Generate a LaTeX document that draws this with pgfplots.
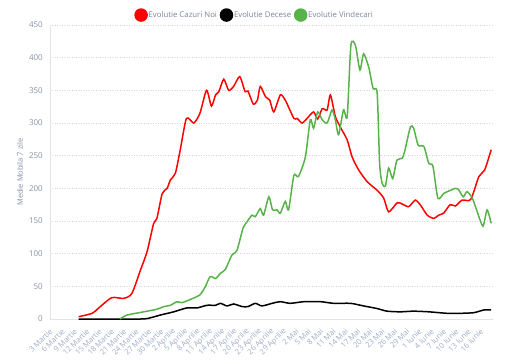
\documentclass[border=0pt]{standalone}
\usepackage{fontspec}
\setmainfont{Open Sans}
\usepackage{pgfplots}
\usepackage{pgfplotstable}
\pgfplotsset{compat=1.18}
\definecolor{tickc}{HTML}{8591A6}
\definecolor{xtickc}{HTML}{9DABC6}
\definecolor{legc}{HTML}{79859A}
\definecolor{gridc}{HTML}{D6D6D6}
\definecolor{axc}{HTML}{E3E3E3}
\definecolor{cred}{HTML}{FF0000}
\definecolor{cgreen}{HTML}{58B24A}
\pgfplotstableread{
x y
6.4 3.5
9.7 8.7
11.7 19
14.5 32.7
17.4 31.6
19.4 39
21.5 75
23.1 103
24.7 146
25.5 154
26.8 192
28 200
28.8 213
30 223
31.2 259
32.7 307
34.5 300
36 315
37.6 350
38.8 326
39.8 343
40.6 348
41.8 367
43 350
44.2 356
45.7 371
47 348
47.7 349
49 329
50 335
50.7 356
52 340
53 335
54 317
55.6 343
56.8 335
58.9 307
59.7 307
60.9 300
62.1 307
63.7 317
64.7 306
65.8 322
67 320
67.8 343
69 310
70.2 294
71.9 274
73.1 248
74.7 228
76.8 210
79.2 197
80.8 185
82 164
84.1 178
85.3 176
86.9 172
88.5 182
89.8 174
91.4 159
93 154
94.2 159
95.4 162
97 175
98.3 173
99.9 182
102 183
104 218
105.4 228
107 259
}\cazuri
\pgfplotstableread{
x y
6.4 0
21.5 0
24 2
26.3 6
29.6 11
32.8 17
35.3 17
37.7 21
39.8 21
41 24
42.6 20
44.2 23
46.3 19
47.7 19
49.5 24
51.1 20
53.6 24
55.6 26.5
58 24
61.3 26.5
65.4 26.5
68.6 24
72.7 24
75.9 20
79.2 16
81.6 12
84.9 11
88 12
91.8 11
96.3 8.7
99.5 8.7
102.8 9.7
105.2 13.8
107 13.8
}\decese
\pgfplotstableread{
x y
16.5 0
18.2 6
22.3 11
25.5 15
27.2 19
28.8 21
30.4 26.5
31.6 25
33.7 30
36 37
37.3 49.5
38.5 65
39.8 62
41 70
42.2 76
43.8 98
45 104.6
46.5 139
47.5 149
48.7 159
49.5 156.6
50.7 169
51.5 159
52.8 187
53.7 167
54.8 167
55.6 162
56.8 180
57.6 167
58.9 220
60 218
61.7 248
62.9 305
63.7 292
64.7 317
65.8 305
67 300
68.2 320
69 305
69.8 282
71 320
71.9 310
72.8 419
73.9 419
75 381
75.9 406
77.2 384
78.2 353
79.2 346
79.8 238
80.4 208
81.2 203
82 231
83 215
84 243
85.3 246
86 259
87.3 294
88.1 292
89.2 266
90.6 264
91.8 238
92.8 234
94 185
95.4 192
96.7 196
98.3 200
99.1 197.5
100.2 187
101.1 195
102.4 185
103.6 164
105 142
106 167
107 146.5
}\vindecari
\begin{document}
\begin{tikzpicture}
\path[use as bounding box] (-50pt,-41pt) rectangle (460pt,319pt);
\begin{axis}[
  at={(0,0)}, anchor=south west,
  scale only axis, width=442pt, height=294pt,
  xmin=-0.56, xmax=107.2, ymin=0, ymax=450,
  ytick={0,50,...,450},
  xtick={0,3,...,105},
  xticklabels={3 Martie,6 Martie,9 Martie,12 Martie,15 Martie,18 Martie,21 Martie,24 Martie,27 Martie,30 Martie,2 Aprilie,5 Aprilie,8 Aprilie,11 Aprilie,14 Aprilie,17 Aprilie,20 Aprilie,23 Aprilie,26 Aprilie,29 Aprilie,2 Mai,5 Mai,8 Mai,11 Mai,14 Mai,17 Mai,20 Mai,23 Mai,26 Mai,29 Mai,1 Iunie,4 Iunie,7 Iunie,10 Iunie,13 Iunie,16 Iunie},
  xticklabel style={yshift=-11pt, xshift=-1pt, rotate=45, anchor=east, font=\fontsize{7.6}{8}\selectfont, text=xtickc, inner sep=0pt},
  yticklabel style={font=\fontsize{8}{10}\selectfont, text=tickc, inner sep=0pt, xshift=-7pt},
  /pgf/number format/assume math mode=true,
  major tick length=0pt,
  ymajorgrids, grid style={gridc, dotted, line width=0.6pt},
  axis x line*=bottom, axis y line*=left,
  axis line style={axc, line width=0.6pt},
  x axis line style={-}, y axis line style={-},
  ylabel={Medie Mobila 7 zile},
  ylabel style={font=\fontsize{7.5}{9}\selectfont, text=tickc, at={(axis description cs:-0.068,0.5)}, anchor=center},
  legend columns=3,
  legend style={at={(0.5,1)}, anchor=south, xshift=-17pt, yshift=3pt, draw=none, fill=none, font=\fontsize{7.8}{10}\selectfont, text=legc, nodes={inner sep=0.8pt}, /tikz/every even column/.append style={column sep=2pt}, inner sep=0pt, cells={anchor=west}},
  legend image code/.code={\fill[#1] (0pt,0pt) circle (6pt);},
  every axis plot/.append style={line width=1.5pt, smooth, tension=0.4},
]
\addplot[cred] table[x=x,y=y] {\cazuri};
\addlegendentry{Evolutie Cazuri Noi}
\addplot[black] table[x=x,y=y] {\decese};
\addlegendentry{Evolutie Decese}
\addplot[cgreen] table[x=x,y=y] {\vindecari};
\addlegendentry{Evolutie Vindecari}
\end{axis}
\end{tikzpicture}
\end{document}
